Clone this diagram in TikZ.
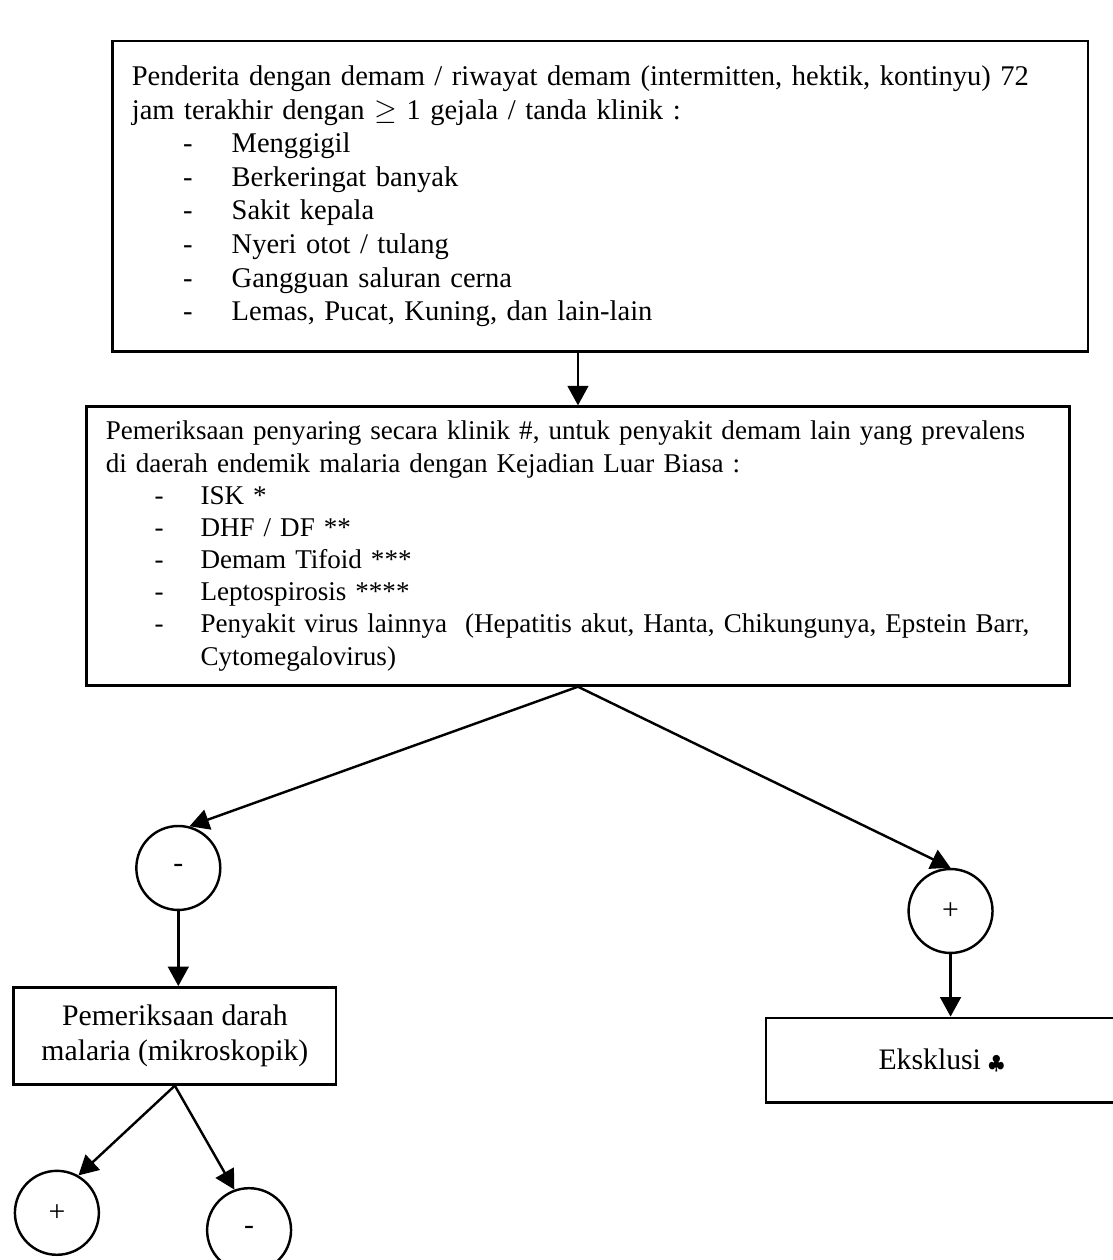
\documentclass[tikz,border=0pt]{standalone}
\usepackage{fontspec}
\setmainfont{Liberation Serif}
\usepackage{amssymb}
\usepackage{tikz}
\usetikzlibrary{arrows.meta,positioning}
\newcommand{\butir}[1]{\makebox[3.5em][l]{\hspace*{1.8em}-}#1}
\tikzset{
  every picture/.style = {
    line width = 1pt,
    >={Triangle[length=8pt,width=8.5pt]},
  }
  ,
  kotak/.style = {
    rectangle,
    draw,
    font = \fontsize{12.2}{14.5}\selectfont,
    align = center,
    inner sep = 0pt
  }
  , % kotak berisi daftar gejala
  daftar/.style = {
    kotak,
    align = left,
    inner xsep = 8pt
  }
  , % lingkaran hasil + / -
  hasil/.style = {
    circle,
    draw,
    font = \fontsize{12.2}{14.5}\selectfont,
    minimum size = 1.21cm,
    inner sep = 0pt
  }
}

\begin{document}
\begin{tikzpicture}
\useasboundingbox (0,0) rectangle (16.04,18.16);

\node[daftar, font=\fontsize{11.7}{13.8}\selectfont, text width=13.50cm, minimum height=4.47cm] at (8.65,15.33) (awal) {\mbox{Penderita dengan demam / riwayat demam (intermitten, hektik, kontinyu) 72}\\
jam terakhir dengan $\geq$ 1 gejala / tanda klinik :\\
\butir{Menggigil}\\
\butir{Berkeringat banyak}\\
\butir{Sakit kepala}\\
\butir{Nyeri otot / tulang}\\
\butir{Gangguan saluran cerna}\\
\butir{Lemas, Pucat, Kuning, dan lain-lain}};

\node[daftar, font=\fontsize{11.1}{13.2}\selectfont, text width=13.61cm, minimum height=4.02cm] at (8.33,10.29) (saring) {\mbox{Pemeriksaan penyaring secara klinik \#, untuk penyakit demam lain yang prevalens}\\
di daerah endemik malaria dengan Kejadian Luar Biasa :\\
\butir{ISK *}\\
\butir{DHF / DF **}\\
\butir{Demam Tifoid ***}\\
\butir{Leptospirosis ****}\\
\mbox{\butir{Penyakit virus lainnya\ \ (Hepatitis akut, Hanta, Chikungunya, Epstein Barr,}}\\
\hspace*{3.5em}Cytomegalovirus)};

\node[hasil] at (2.57,5.65) (neg1) {-};
\node[hasil] at (13.70,5.03) (pos1) {+};

\node[kotak, minimum width=4.65cm, minimum height=1.40cm] at (2.52,3.23) (darah) {Pemeriksaan darah\\ malaria (mikroskopik)};
\node[kotak, minimum width=5.06cm, minimum height=1.22cm] at (13.57,2.88) (eks) {Eksklusi {\footnotesize$\clubsuit$}};

\node[hasil] at (0.82,0.68) (pos2) {+};
\node[hasil] at (3.59,0.43) (neg2) {-};

\draw[->] (saring.north |- awal.south) -- (saring.north);
\draw[->] (saring.south) -- (neg1.75);
\draw[->] (saring.south) -- (pos1.north);
\draw[->] (neg1) -- (neg1 |- darah.north);
\draw[->] (pos1) -- (pos1 |- eks.north);
\draw[->] (darah.south) -- (pos2.60);
\draw[->] (darah.south) -- (neg2.110);
\end{tikzpicture}
\end{document}
